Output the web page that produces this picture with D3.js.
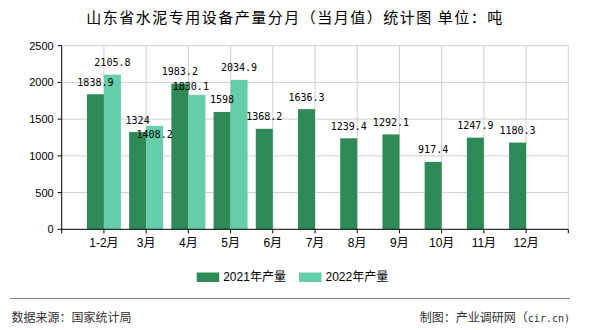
<!DOCTYPE html>
<html><head><meta charset="utf-8">
<script src="https://cdn.jsdelivr.net/npm/d3@7"></script>
<style>
html,body{margin:0;padding:0;background:#fff;}
svg{display:block;font-family:"Liberation Sans","Noto Sans CJK SC",sans-serif;}
</style></head>
<body><svg id="c" width="590" height="330"></svg>
<script>
const categories = ["1-2月","3月","4月","5月","6月","7月","8月","9月","10月","11月","12月"];
const values2021 = [1838.9,1324,1983.2,1598,1368.2,1636.3,1239.4,1292.1,917.4,1247.9,1180.3];
const values2022 = [2105.8,1408.2,1830.1,2034.9];
const yTicks = [0,500,1000,1500,2000,2500];
const seriesNames = ["2021年产量","2022年产量"];
const colors = ["#2e8b57","#66cdaa"];
// label nudges (layout only) for 2022 labels to avoid overlap
const nudge2022 = [[0,0],[0,20.5],[-6,3.5],[0,0]];

const svg = d3.select("#c");
const L=61.7, R=568.3, T=45.7, B=229.3;
const x = d3.scalePoint().domain(categories).range([L,R]).padding(1);
const y = d3.scaleLinear().domain([0,2500]).range([B,T]);
const bw = 17;

svg.append("text").attr("x",295).attr("y",22.5).attr("text-anchor","middle")
  .attr("font-size",15).attr("letter-spacing",1.5).attr("fill","#000")
  .attr("font-family","'Noto Sans CJK SC',sans-serif")
  .text("山东省水泥专用设备产量分月（当月值）统计图 单位：吨");

// grid
const g = svg.append("g");
g.selectAll(".hg").data(yTicks.slice(1)).enter().append("line")
  .attr("x1",L).attr("x2",R).attr("y1",d=>y(d)).attr("y2",d=>y(d))
  .attr("stroke","#d0d0d0").attr("stroke-width",1);
const vx = categories.map(c=>x(c)).concat([R]);
g.selectAll(".vg").data(vx).enter().append("line")
  .attr("x1",d=>d).attr("x2",d=>d).attr("y1",T).attr("y2",B)
  .attr("stroke","#d0d0d0").attr("stroke-width",1);

// bars
svg.append("g").selectAll("rect").data(values2021).enter().append("rect")
  .attr("x",(d,i)=>x(categories[i])-bw).attr("width",bw)
  .attr("y",d=>y(d)).attr("height",d=>B-y(d)).attr("fill",colors[0]);
svg.append("g").selectAll("rect").data(values2022).enter().append("rect")
  .attr("x",(d,i)=>x(categories[i])).attr("width",bw)
  .attr("y",d=>y(d)).attr("height",d=>B-y(d)).attr("fill",colors[1]);

// labels
const lf = "'DejaVu Sans Mono',monospace";
svg.append("g").selectAll("text").data(values2021).enter().append("text")
  .attr("x",(d,i)=>x(categories[i])-bw/2).attr("y",d=>y(d)-8.5)
  .attr("text-anchor","middle").attr("font-size",10).attr("font-family",lf).attr("fill","#000")
  .text(d=>String(d));
svg.append("g").selectAll("text").data(values2022).enter().append("text")
  .attr("x",(d,i)=>x(categories[i])+bw/2+nudge2022[i][0]).attr("y",(d,i)=>y(d)-8.5+nudge2022[i][1])
  .attr("text-anchor","middle").attr("font-size",10).attr("font-family",lf).attr("fill","#000")
  .text(d=>String(d));

// axes
const ax = svg.append("g").attr("stroke","#000").attr("stroke-width",1);
ax.append("line").attr("x1",L).attr("x2",L).attr("y1",T).attr("y2",B+0.5);
ax.append("line").attr("x1",L).attr("x2",R).attr("y1",B).attr("y2",B);
ax.selectAll(".yt").data(yTicks).enter().append("line")
  .attr("x1",L-4).attr("x2",L).attr("y1",d=>y(d)).attr("y2",d=>y(d));
ax.selectAll(".xt").data([L].concat(vx)).enter().append("line")
  .attr("x1",d=>d).attr("x2",d=>d).attr("y1",B).attr("y2",B+4);

svg.append("g").selectAll("text").data(yTicks).enter().append("text")
  .attr("x",L-8).attr("y",d=>y(d)+4).attr("text-anchor","end")
  .attr("font-size",11).attr("fill","#000").text(d=>d);
svg.append("g").selectAll("text").data(categories).enter().append("text")
  .attr("x",d=>x(d)).attr("y",247).attr("text-anchor","middle")
  .attr("font-size",12).attr("fill","#000").text(d=>d);

// legend
const lx = [196.7, 299];
seriesNames.forEach((n,i)=>{
  svg.append("rect").attr("x",lx[i]).attr("y",272.5).attr("width",22.5).attr("height",9.5).attr("fill",colors[i]);
  svg.append("text").attr("x",lx[i]+26.5).attr("y",281).attr("font-size",12).attr("fill","#000").text(n);
});

// footer
svg.append("line").attr("x1",10).attr("x2",570).attr("y1",298.5).attr("y2",298.5)
  .attr("stroke","#888").attr("stroke-width",1);
svg.append("text").attr("x",11.5).attr("y",321.5).attr("font-size",12).attr("fill","#333")
  .text("数据来源：国家统计局");
const ft = svg.append("text").attr("x",570).attr("y",321.5).attr("text-anchor","end").attr("font-size",12).attr("fill","#333");
ft.append("tspan").text("制图：产业调研网（");
ft.append("tspan").attr("font-family","'DejaVu Sans Mono',monospace").attr("font-size",10).text("cir.cn)");
</script></body></html>
